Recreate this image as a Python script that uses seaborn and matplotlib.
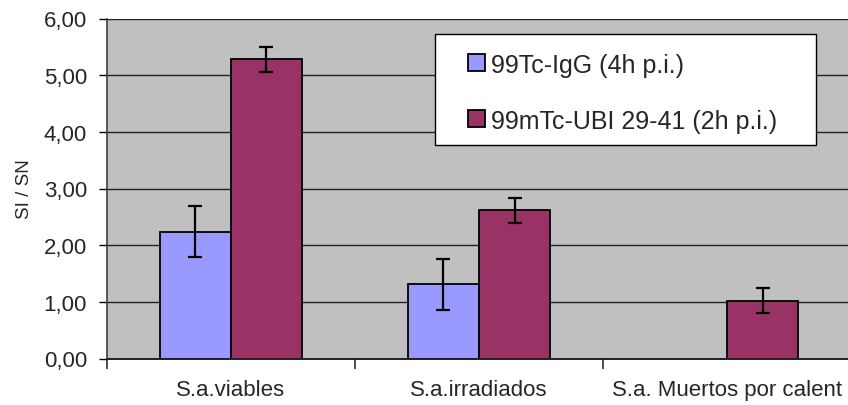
import numpy as np
import pandas as pd
import matplotlib
matplotlib.use("Agg")
import matplotlib.pyplot as plt
from matplotlib.patches import Patch, Rectangle
from matplotlib.container import BarContainer
import seaborn as sns

# Uptake ratio (SI / SN) per bacterial condition, mean and error for each tracer
categories = ["S.a.viables", "S.a.irradiados", "S.a. Muertos por calent"]
series_names = ["99Tc-IgG (4h p.i.)", "99mTc-UBI 29-41 (2h p.i.)"]
igg_values = [2.24, 1.31, np.nan]
igg_errors = [0.455, 0.45, np.nan]
ubi_values = [5.28, 2.62, 1.02]
ubi_errors = [0.225, 0.22, 0.22]
y_ticks = [0, 1, 2, 3, 4, 5, 6]
y_tick_labels = ["0,00", "1,00", "2,00", "3,00", "4,00", "5,00", "6,00"]
colors = ["#9999FF", "#993366"]

sns.set_theme(style="white")
plt.rcParams["font.family"] = ["Liberation Sans", "DejaVu Sans"]

df = pd.DataFrame({
    "category": categories * 2,
    "series": [series_names[0]] * len(categories) + [series_names[1]] * len(categories),
    "value": igg_values + ubi_values,
})
errors = [igg_errors, ubi_errors]

fig = plt.figure(figsize=(8.48, 4.06), dpi=100)
ax = fig.add_axes([106.5 / 848, 46.5 / 406, 745 / 848, 340 / 406])
ax.set_facecolor("#C0C0C0")

sns.barplot(data=df, x="category", y="value", hue="series",
            order=categories, hue_order=series_names, palette=colors,
            width=0.572, errorbar=None, edgecolor="black", linewidth=1.3,
            saturation=1, legend=False, ax=ax, zorder=2)

# error bars at the centre of each drawn bar
bar_containers = [c for c in ax.containers if isinstance(c, BarContainer)]
for i, container in enumerate(bar_containers):
    for bar in container.patches:
        h = bar.get_height()
        if np.isnan(h):
            continue
        xc = bar.get_x() + bar.get_width() / 2
        idx = int(round(xc))
        ax.errorbar(xc, h, yerr=errors[i][idx], fmt="none", ecolor="black",
                    elinewidth=1.6, capsize=5, capthick=1.6, zorder=3)

ax.set_xlim(-0.5, 2.5)
ax.set_ylim(0, 6)
ax.set_yticks(y_ticks, y_tick_labels)
ax.yaxis.grid(True, color="#202020", linewidth=1.0)
ax.set_axisbelow(True)

ax.tick_params(axis="y", left=True, length=6, width=1, pad=8,
               labelsize=16, direction="out", color="black")
ax.tick_params(axis="x", which="major", bottom=True, length=0, pad=15,
               labelsize=16)
ax.set_xticks([-0.5, 0.5, 1.5, 2.5], minor=True)
ax.tick_params(axis="x", which="minor", bottom=True, length=7, width=1.2,
               direction="out", color="#303030")

for s in ("top", "right"):
    ax.spines[s].set_visible(False)
ax.spines["left"].set_color("#404040")
ax.spines["left"].set_linewidth(1.2)
ax.spines["bottom"].set_color("#202020")
ax.spines["bottom"].set_linewidth(1.4)

ax.set_xlabel("")
ax.set_ylabel("SI / SN", fontsize=13.5, labelpad=8)

# legend inside a white box
ax.add_patch(Rectangle((0.4409, 0.6294), 0.5114, 0.3244, transform=ax.transAxes,
                       facecolor="white", edgecolor="black", linewidth=1.0,
                       zorder=4))
handles = [Patch(facecolor=c, edgecolor="black", linewidth=1.3) for c in colors]
leg = ax.legend(handles, series_names, loc="upper left",
                bbox_to_anchor=(0.4852, 0.900), frameon=False, fontsize=18,
                handlelength=0.68, handleheight=0.68, handletextpad=0.24,
                labelspacing=1.28, borderpad=0, borderaxespad=0)
leg.set_zorder(5)

fig.savefig("out.png", dpi=100)
